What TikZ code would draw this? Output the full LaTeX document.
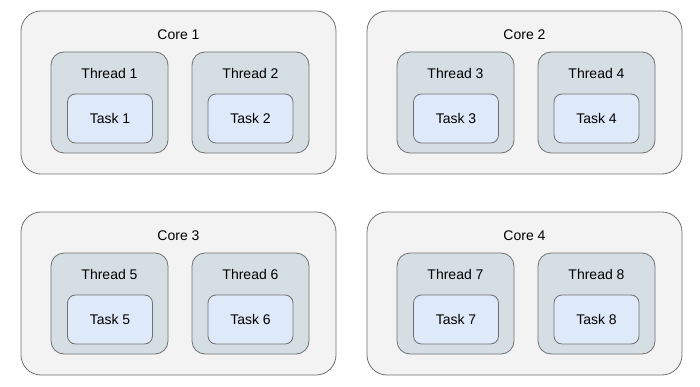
\documentclass[tikz,border=0pt]{standalone}
\usepackage{fontspec}
\setmainfont{Liberation Sans}
\definecolor{corefill}{HTML}{F3F3F3}
\definecolor{threadfill}{HTML}{D5DFE3}
\definecolor{taskfill}{HTML}{DEE9F9}
\definecolor{edge}{HTML}{707070}
\begin{document}
\begin{tikzpicture}[x=1pt,y=-1pt,
  corebox/.style={draw=edge,line width=0.8pt,fill=corefill,rounded corners=20pt,minimum width=315pt,minimum height=163pt,inner sep=0pt},
  threadbox/.style={draw=edge,line width=0.8pt,fill=threadfill,rounded corners=13pt,minimum width=117pt,minimum height=101pt,inner sep=0pt},
  taskbox/.style={draw=edge,line width=0.8pt,fill=taskfill,rounded corners=8pt,minimum width=85pt,minimum height=49pt,inner sep=0pt,font=\fontsize{14pt}{16pt}\selectfont},
  lbl/.style={inner sep=0pt,font=\fontsize{14pt}{16pt}\selectfont}]
\useasboundingbox (0,0) rectangle (700,387);
\foreach \c/\cx/\cy/\ta/\tb in {1/0/0/1/2, 2/346/0/3/4, 3/0/201/5/6, 4/346/201/7/8}{
  \node[corebox] (core\c) at (178.5+\cx,92.5+\cy) {};
  \node[lbl] (corelbl\c) at (178.5+\cx,35+\cy) {Core \c};
  \node[threadbox] (thread\ta) at (109.5+\cx,102.5+\cy) {};
  \node[lbl] (threadlbl\ta) at (109.5+\cx,73+\cy) {Thread \ta};
  \node[taskbox] (task\ta) at (110+\cx,118.5+\cy) {Task \ta};
  \node[threadbox] (thread\tb) at (250.5+\cx,102.5+\cy) {};
  \node[lbl] (threadlbl\tb) at (250.5+\cx,73+\cy) {Thread \tb};
  \node[taskbox] (task\tb) at (250.5+\cx,118.5+\cy) {Task \tb};
}
\end{tikzpicture}
\end{document}
